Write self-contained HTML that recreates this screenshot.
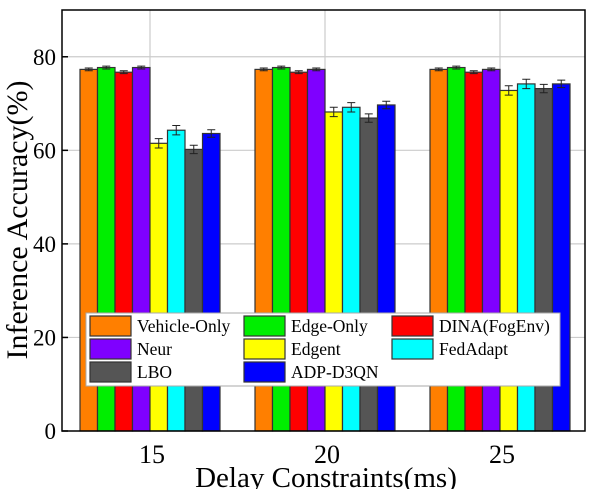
<!DOCTYPE html>
<html><head><meta charset="utf-8"><style>
html,body{margin:0;padding:0;background:#fff;}
svg{display:block;font-family:"Liberation Serif",serif;}
</style></head><body>
<svg id="chart" width="601" height="489"></svg>
<script>
const categories=["15","20","25"];
const seriesNames=["Vehicle-Only","Edge-Only","DINA(FogEnv)","Neur","Edgent","FedAdapt","LBO","ADP-D3QN"];
const colors=["#ff7f00","#00ee00","#ff0000","#7f00ff","#ffff00","#00ffff","#555555","#0000ff"];
const s15=[77.3,77.7,76.7,77.7,61.5,64.3,60.2,63.6];
const s20=[77.3,77.7,76.7,77.3,68.2,69.2,66.9,69.7];
const s25=[77.3,77.7,76.7,77.3,72.8,74.2,73.2,74.2];
const errs=[0.3,0.3,0.3,0.3,1.0,1.0,0.9,0.8];
const yTicks=[0,20,40,60,80];
const values=[s15,s20,s25];
const NS="http://www.w3.org/2000/svg";
const svg=document.getElementById('chart');
const L=62,R=585,T=10,B=431,yMax=90;
const y=v=>B-v/yMax*(B-T);
const x=i=>150+i*175;
const bw=17.5;
function mk(t,a,p){const e=document.createElementNS(NS,t);for(const k in a)e.setAttribute(k,a[k]);(p||svg).appendChild(e);return e;}
yTicks.forEach(v=>{if(v>0){const g=mk('line',{x1:L,x2:R,y1:y(v),y2:y(v),stroke:'#ccc','stroke-width':1.2});

}});
categories.forEach((c,i)=>{const g=mk('line',{x1:x(i),x2:x(i),y1:T,y2:B,stroke:'#ccc','stroke-width':1.2});

});
values.forEach((vals,gi)=>{vals.forEach((v,si)=>{
const bx=x(gi)-4*bw+si*bw;
const r=mk('rect',{x:bx,y:y(v),width:bw,height:B-y(v),fill:colors[si],stroke:'#333','stroke-width':1.2});


const cx=bx+bw/2,e=errs[si];
const eb=mk('path',{d:`M${cx},${y(v+e)}V${y(v-e)}M${cx-4},${y(v+e)}H${cx+4}M${cx-4},${y(v-e)}H${cx+4}`,stroke:'#222','stroke-width':1,fill:'none'});


});});
const fr=mk('rect',{x:L,y:T,width:R-L,height:B-T,fill:'none',stroke:'#000','stroke-width':1.5});


yTicks.forEach(v=>{mk('line',{x1:L,x2:L+6,y1:y(v),y2:y(v),stroke:'#000','stroke-width':1.5});
const t=mk('text',{x:L-6,y:y(v)+8,'text-anchor':'end','font-size':23});t.textContent=v;

});
categories.forEach((c,i)=>{const t=mk('text',{x:x(i)+2,y:463,'text-anchor':'middle','font-size':26});t.textContent=c;

});
const xt=mk('text',{x:326,y:487,'text-anchor':'middle','font-size':29});xt.textContent='Delay Constraints(ms)';


const yt=mk('text',{x:0,y:0,'text-anchor':'middle','font-size':30,transform:'translate(27,220) rotate(-90)'});yt.textContent='Inference Accuracy(%)';


const lg=mk('g',{});


mk('rect',{x:86,y:313,width:474,height:73,fill:'#fff',stroke:'#aaa','stroke-width':1},lg);
const colX=[90,244,392],rowY=[316,339,362];
seriesNames.forEach((n,i)=>{const cx=colX[i%3],cy=rowY[Math.floor(i/3)];
const g=mk('g',{},lg);


mk('rect',{x:cx,y:cy,width:41,height:20,fill:colors[i],stroke:'#333','stroke-width':1.2},g);
const t=mk('text',{x:cx+47,y:cy+16,'font-size':17.5},g);t.textContent=n;});
</script>
</body></html>
